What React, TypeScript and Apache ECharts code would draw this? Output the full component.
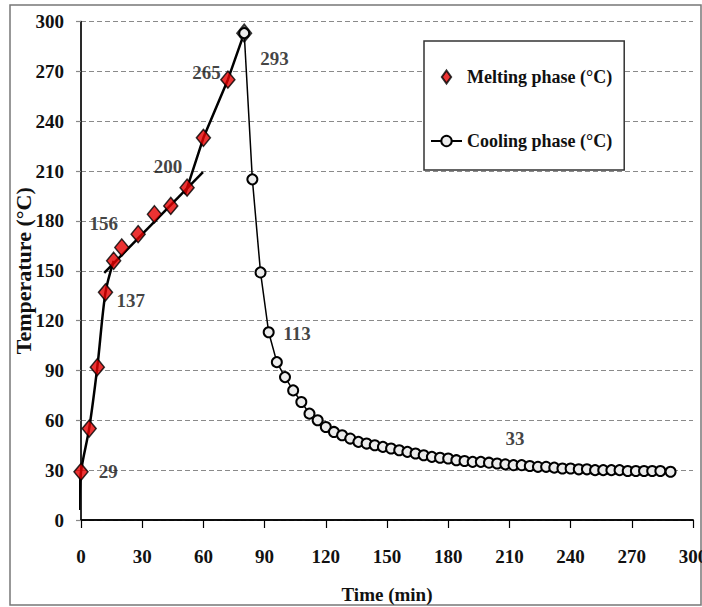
import React, { useEffect, useRef } from "react";
import * as echarts from "echarts";

const meltingTime = [0, 4, 8, 12, 16, 20, 28, 36, 44, 52, 60, 72, 80];
const meltingTemp = [29, 55, 92, 137, 156, 164, 172, 184, 189, 200, 230, 265, 293];

const coolingTime = [
  80, 84, 88, 92, 96, 100, 104, 108, 112, 116, 120, 124, 128, 132, 136, 140, 144, 148, 152, 156,
  160, 164, 168, 172, 176, 180, 184, 188, 192, 196, 200, 204, 208, 212, 216, 220, 224, 228, 232,
  236, 240, 244, 248, 252, 256, 260, 264, 268, 272, 276, 280, 284, 289,
];
const coolingTemp = [
  293, 205, 149, 113, 95, 86, 78, 71, 64, 60, 56, 53, 51, 49, 47, 46, 45, 44, 43, 42,
  41, 40, 39, 38, 37.5, 37, 36, 35.5, 35, 35, 34.5, 34, 33.5, 33, 33, 32.5, 32, 32, 31.5,
  31, 31, 30.5, 30.5, 30, 30, 30, 30, 29.5, 29.5, 29.5, 29.5, 29.5, 29,
];

// trend lines drawn through the melting phase
const trendATime = [-0.8, 0, 4, 8, 12, 16];
const trendATemp = [6, 29, 55, 92, 137, 156];
const trendBTime = [11.4, 59.8];
const trendBTemp = [148.7, 209.4];
const trendCTime = [51, 60, 72, 80];
const trendCTemp = [196, 230, 265, 293];

const annotationText = ["29", "137", "156", "200", "265", "293", "113", "33"];
const annotationTime = [13.3, 24.4, 11.2, 42.7, 61.5, 94.9, 105.9, 212.7];
const annotationTemp = [29, 132.3, 178.4, 213, 269.6, 277.6, 112.3, 49.1];

const MELT = "Melting phase (°C)";
const COOL = "Cooling phase (°C)";
const FONT = "'Liberation Serif', 'Times New Roman', serif";

const zip = (a: number[], b: number[]) => a.map((v, i) => [v, b[i]]);

export default function App() {
  const ref = useRef<HTMLDivElement>(null);
  useEffect(() => {
    if (!ref.current) return;
    const chart = echarts.init(ref.current, undefined, { renderer: "svg" });
    const lastIdx = meltingTime.length - 1;
    const trendStyle = { color: "#000", width: 2.5 };
    const boldText = { fontFamily: FONT, fontWeight: "bold", fontSize: 19, color: "#111" };
    chart.setOption({
      animation: false,
      backgroundColor: "#fff",
      textStyle: { fontFamily: FONT },
      graphic: [
        {
          type: "rect",
          shape: { x: 10, y: 5, width: 691, height: 600 },
          style: { fill: "none", stroke: "#777", lineWidth: 1.5 },
          z: -1,
        },
      ],
      grid: {
        left: 81,
        right: 9,
        top: 21.5,
        bottom: 87,
        containLabel: false,
        outerBoundsMode: "none",
      },
      legend: {
        orient: "vertical",
        left: 424,
        top: 41,
        padding: [27, 12, 20, 6],
        itemGap: 46,
        itemWidth: 31,
        itemHeight: 13,
        symbolKeepAspect: true,
        borderColor: "#333",
        borderWidth: 1.5,
        backgroundColor: "#fff",
        textStyle: { ...boldText, fontSize: 18 },
        data: [
          { name: MELT, icon: "path://M5,0L10,7L5,14L0,7Z" },
          { name: COOL },
        ],
      },
      xAxis: [
        {
          type: "value",
          min: 0,
          max: 300,
          interval: 30,
          name: "Time (min)",
          nameLocation: "middle",
          nameGap: 65,
          nameMoveOverlap: false,
          nameTextStyle: boldText,
          axisLine: { show: true, onZero: false, lineStyle: { color: "#000", width: 1.5 } },
          axisTick: { show: true, length: 8, lineStyle: { color: "#000", width: 1.2 } },
          axisLabel: { margin: 27, ...boldText },
          splitLine: { show: false },
        },
        {
          type: "value",
          position: "top",
          min: 0,
          max: 300,
          axisLine: { show: true, lineStyle: { color: "#000", width: 1.5 } },
          axisTick: { show: false },
          axisLabel: { show: false },
          splitLine: { show: false },
        },
      ],
      yAxis: [
        {
          type: "value",
          min: 0,
          max: 300,
          interval: 30,
          name: "Temperature (°C)",
          nameLocation: "middle",
          nameGap: 47,
          nameMoveOverlap: false,
          nameTextStyle: { ...boldText, fontSize: 22 },
          axisLine: { show: true, onZero: false, lineStyle: { color: "#888", width: 1.5 } },
          axisTick: { show: true, length: 5, lineStyle: { color: "#888", width: 1.2 } },
          axisLabel: { margin: 17, ...boldText },
          splitLine: { show: true, lineStyle: { color: "#8a8a8a", type: [5, 3], width: 1 } },
        },
        {
          type: "value",
          position: "right",
          min: 0,
          max: 300,
          axisLine: { show: true, lineStyle: { color: "#000", width: 1.5 } },
          axisTick: { show: false },
          axisLabel: { show: false },
          splitLine: { show: false },
        },
      ],
      series: [
        {
          name: "trendA",
          type: "line",
          data: zip(trendATime, trendATemp),
          smooth: 0.3,
          symbol: "none",
          clip: false,
          lineStyle: trendStyle,
          z: 2,
          silent: true,
        },
        {
          name: "trendB",
          type: "line",
          data: zip(trendBTime, trendBTemp),
          symbol: "none",
          lineStyle: trendStyle,
          z: 2,
          silent: true,
        },
        {
          name: "trendC",
          type: "line",
          data: zip(trendCTime, trendCTemp),
          symbol: "none",
          lineStyle: trendStyle,
          z: 2,
          silent: true,
        },
        {
          name: MELT,
          type: "scatter",
          symbol: "diamond",
          symbolSize: [14, 17],
          itemStyle: { color: "#e60000", borderColor: "#000", borderWidth: 1.5 },
          data: meltingTime.map((t, i) =>
            i === lastIdx
              ? { value: [t, meltingTemp[i]], itemStyle: { color: "#fff", borderColor: "#000", borderWidth: 2 } }
              : [t, meltingTemp[i]]
          ),
          z: 3,
        },
        {
          name: COOL,
          type: "line",
          symbol: "circle",
          symbolSize: 10,
          showAllSymbol: true,
          lineStyle: { color: "#000", width: 1.5 },
          itemStyle: { color: "#ececec", borderColor: "#000", borderWidth: 2 },
          data: zip(coolingTime, coolingTemp),
          z: 4,
        },
        {
          name: "labels",
          type: "scatter",
          symbolSize: 0,
          silent: true,
          data: annotationTime.map((t, i) => ({ value: [t, annotationTemp[i]], name: annotationText[i] })),
          label: {
            show: true,
            position: "inside",
            formatter: (p: any) => p.name,
            ...boldText,
          },
          z: 5,
        },
      ],
    });
    return () => chart.dispose();
  }, []);
  return (
    <div
      ref={ref}
      style={{ position: "fixed", left: 0, top: 0, width: 702, height: 607, background: "#fff" }}
    />
  );
}
